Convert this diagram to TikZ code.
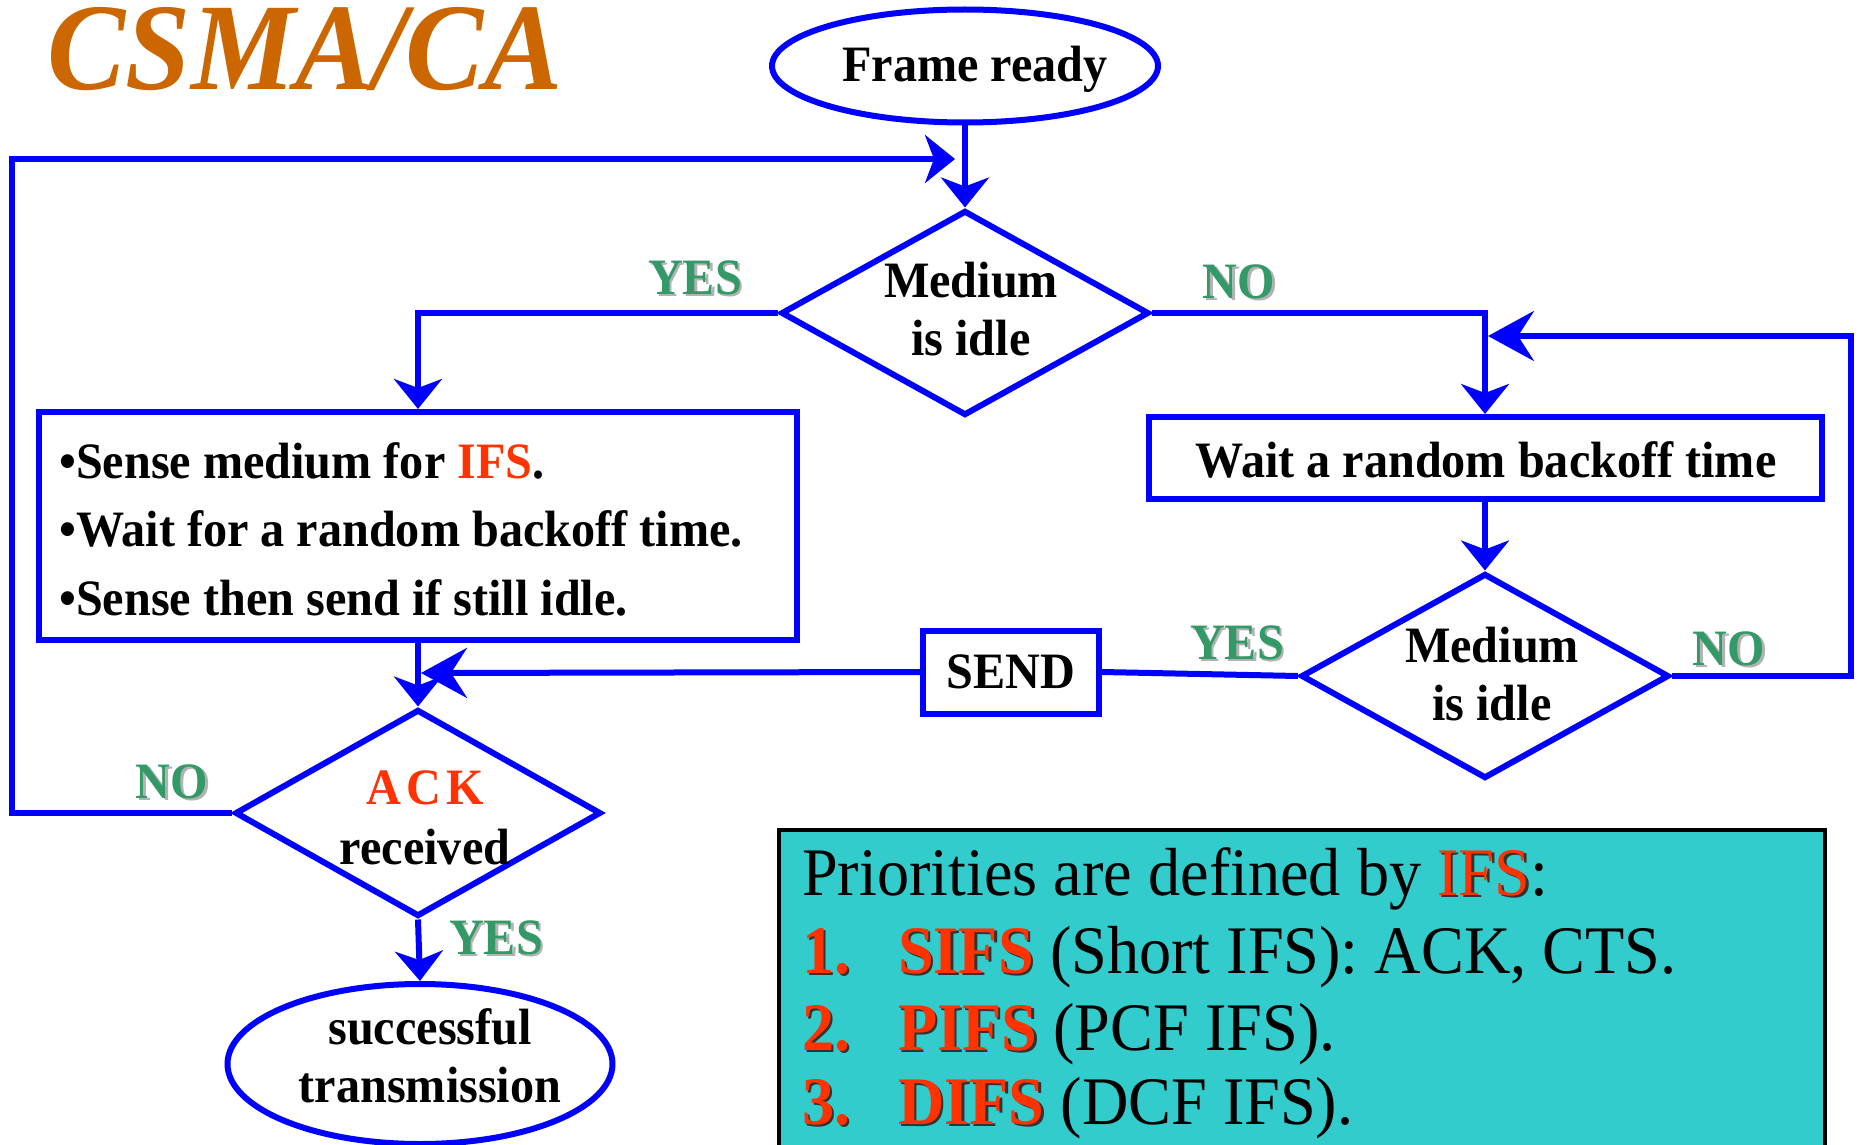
\documentclass[tikz,border=0pt]{standalone}
\usepackage{fontspec}
\setmainfont{Liberation Serif}[FakeStretch=0.945]
\usetikzlibrary{shapes.geometric,arrows.meta}
\definecolor{flowblue}{RGB}{0,0,255}
\definecolor{titleorange}{RGB}{204,102,0}
\definecolor{labelgreen}{RGB}{51,153,102}
\definecolor{hotred}{RGB}{255,51,0}
\definecolor{notecyan}{RGB}{51,204,204}
% text with a small drop shadow: #1 text colour, #2 shadow colour, #3 text
\newcommand\shadowtext[3]{\leavevmode\rlap{\kern2.5pt\raisebox{-2.5pt}{\textcolor{#2}{#3}}}\textcolor{#1}{#3}}

\begin{document}
\begin{tikzpicture}[x=1pt,y=-1pt,
  flow/.style={draw=flowblue, line width=6pt},
  conn/.style={draw=flowblue, line width=6pt},
  arr/.style={conn, -{Stealth[length=30pt,width=48pt,inset=9pt]}},
  arrlong/.style={conn, -{Stealth[length=46pt,width=50pt,inset=16pt]}},
  boldtxt/.style={font=\fontsize{51}{58}\selectfont\bfseries},
  decision/.style={flow, diamond, aspect=1.8, inner sep=0pt, minimum width=368pt, minimum height=205pt},
  terminal/.style={flow, ellipse, inner sep=0pt},
  process/.style={flow, rectangle, inner sep=0pt, boldtxt},
  shapetxt/.style={boldtxt, align=center, inner sep=0pt},
  answer/.style={boldtxt, inner sep=0pt},
  linetxt/.style={boldtxt, inner sep=0pt, anchor=base west},
  notetxt/.style={font=\fontsize{68}{76}\selectfont, inner sep=0pt, anchor=base west},
]
\fill[white] (0,0) rectangle (1860,1145);
\useasboundingbox (0,0) rectangle (1860,1145);
\clip (0,0) rectangle (1860,1145);

% title
\node[font=\fontsize{124}{124}\selectfont\bfseries\itshape, text=titleorange, anchor=base, inner sep=0pt] (title) at (305,90) {CSMA/CA};

% flow chart shapes
\node[terminal, minimum width=386pt, minimum height=113pt] (ready) at (965,66) {};
\node[decision] (idle1) at (965,313) {};
\node[process, minimum width=758pt, minimum height=228pt] (sense) at (418,526) {};
\node[process, minimum width=673pt, minimum height=82pt] (wait) at (1485,458) {};
\node[decision] (idle2) at (1485,676) {};
\node[process, minimum width=176pt, minimum height=83pt] (send) at (1011,672) {SEND};
\node[decision, minimum width=366pt, minimum height=207pt] (ack) at (418,813) {};
\node[terminal, minimum width=385pt, minimum height=160pt] (done) at (420,1064) {};

% texts of the shapes
\node[shapetxt] (readytxt) at (975,69) {Frame ready};
\node[shapetxt] (idle1txt) at (971,309) {Medium\\is idle};
\node[shapetxt] (waittxt) at (1486,460) {Wait a random backoff time};
\node[shapetxt] (idle2txt) at (1492,674) {Medium\\is idle};
\node[shapetxt, font=\fontsize{51}{60}\selectfont\bfseries] (acktxt) at (425,818) {\textcolor{hotred}{A\kern5pt C\kern5pt K}\\received};
\node[shapetxt] (donetxt) at (430,1056) {successful\\transmission};

% text of the left process box
\node[linetxt] (s1) at (59,478) {•Sense medium for \textcolor{hotred}{IFS}.};
\node[linetxt] (s2) at (59,546) {•Wait for a random backoff time.};
\node[linetxt] (s3) at (59,615) {•Sense then send if still idle.};

% connector end points
\coordinate (backtop) at (955,159);
\coordinate (backright) at (1488,336);
\coordinate (sendtip) at (421,673);

% connectors
\draw[arr] (ready.south) -- (idle1.north);
\draw[arr] (idle1.west) -| (sense.north);
\draw[arr] (idle1.east) -| (wait.north);
\draw[arr] (wait.south) -- (idle2.north);
\draw[conn] (idle2.west) -- (send.east);
\draw[arrlong] (send.west) -- (sendtip);
\draw[arrlong] (idle2.east) -- (1851,676) -- (1851,336) -- (backright);
\draw[arr] (sense.south) -- (ack.north);
\draw[arr] (ack.west) -- (12,813) -- (12,159) -- (backtop);
\draw[arr] (ack.south) -- (done.north);

% branch labels
\node[answer] (yes1) at (695,279) {\shadowtext{labelgreen}{black!30}{YES}};
\node[answer] (no1) at (1239,283) {\shadowtext{labelgreen}{black!30}{NO}};
\node[answer] (yes2) at (1237,644) {\shadowtext{labelgreen}{black!30}{YES}};
\node[answer] (no2) at (1729,650) {\shadowtext{labelgreen}{black!30}{NO}};
\node[answer] (no3) at (172,783) {\shadowtext{labelgreen}{black!30}{NO}};
\node[answer] (yes3) at (496,939) {\shadowtext{labelgreen}{black!30}{YES}};

% priority note
\node[draw=black, line width=4pt, fill=notecyan, anchor=north west, inner sep=0pt, minimum width=1046pt, minimum height=340pt] (note) at (777,828) {};
\node[notetxt] (p0) at (802,895) {Priorities are defined by \shadowtext{hotred}{black!80}{IFS}:};
\node[notetxt] (p1n) at (802,973) {\bfseries\shadowtext{hotred}{black!80}{1.}};
\node[notetxt] (p1) at (898,973) {\shadowtext{hotred}{black!80}{\bfseries SIFS} (Short IFS): ACK, CTS.};
\node[notetxt] (p2n) at (802,1050) {\bfseries\shadowtext{hotred}{black!80}{2.}};
\node[notetxt] (p2) at (898,1050) {\shadowtext{hotred}{black!80}{\bfseries PIFS} (PCF IFS).};
\node[notetxt] (p3n) at (802,1124) {\bfseries\shadowtext{hotred}{black!80}{3.}};
\node[notetxt] (p3) at (898,1124) {\shadowtext{hotred}{black!80}{\bfseries DIFS} (DCF IFS).};
\end{tikzpicture}
\end{document}
